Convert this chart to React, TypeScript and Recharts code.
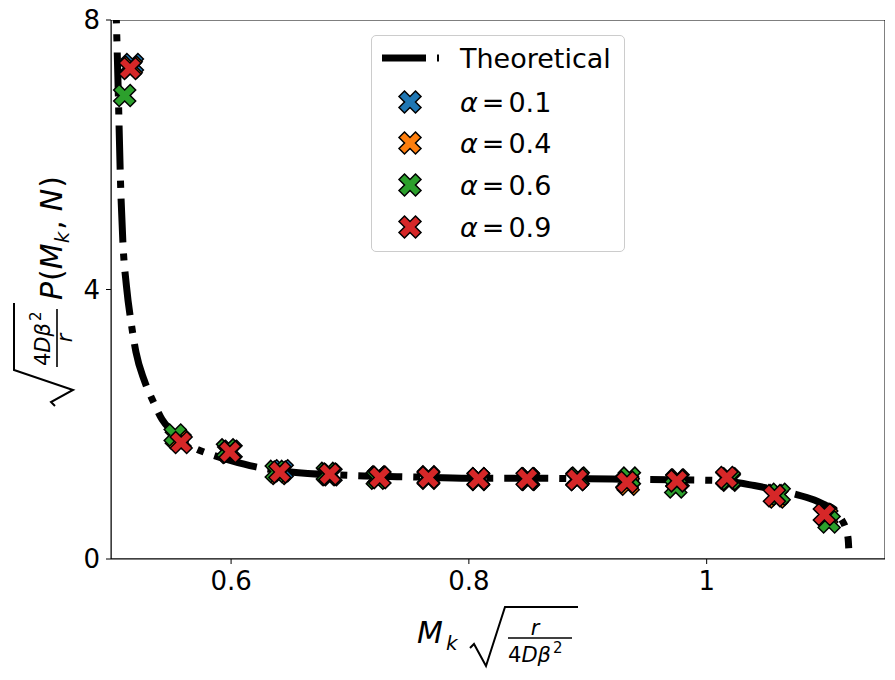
import React from "react";
import {
  ComposedChart,
  Line,
  Scatter,
  XAxis,
  YAxis,
  Legend,
  ReferenceArea,
} from "recharts";

// theoretical curve
const theoryX = [
  0.5025, 0.5035, 0.505, 0.507, 0.509, 0.512, 0.516, 0.52, 0.527, 0.535, 0.542, 0.55,
  0.558, 0.57, 0.585, 0.6, 0.62, 0.65, 0.7, 0.75, 0.8, 0.85, 0.9, 0.95, 1.0, 1.02,
  1.04, 1.06, 1.075, 1.09, 1.1, 1.107, 1.113, 1.117, 1.119, 1.1195,
];
const theoryY = [
  8.6, 8.0, 7.0, 5.6, 4.7, 4.05, 3.5, 3.07, 2.65, 2.32, 2.07, 1.9,
  1.76, 1.64, 1.54, 1.46, 1.37, 1.29, 1.24, 1.22, 1.2, 1.2, 1.19, 1.18, 1.17, 1.15,
  1.09, 1.02, 0.96, 0.88, 0.8, 0.74, 0.6, 0.45, 0.3, 0.16,
];

// simulation points per alpha
const blueX = [0.517, 0.557, 0.6, 0.643, 0.684, 0.725, 0.766, 0.808, 0.85, 0.891, 0.933, 0.975, 1.017, 1.058, 1.1];
const blueY = [7.34, 1.76, 1.6, 1.31, 1.25, 1.21, 1.21, 1.19, 1.19, 1.18, 1.15, 1.17, 1.2, 0.94, 0.65];
const orangeX = [0.516, 0.554, 0.598, 0.64, 0.682, 0.724, 0.766, 0.808, 0.85, 0.891, 0.934, 0.976, 1.019, 1.059, 1.101];
const orangeY = [7.3, 1.8, 1.58, 1.27, 1.25, 1.22, 1.2, 1.18, 1.18, 1.19, 1.11, 1.17, 1.17, 0.92, 0.63];
const greenX = [0.5105, 0.553, 0.597, 0.638, 0.681, 0.723, 0.766, 0.808, 0.85, 0.892, 0.935, 0.974, 1.019, 1.061, 1.103];
const greenY = [6.88, 1.84, 1.62, 1.3, 1.27, 1.2, 1.22, 1.19, 1.19, 1.2, 1.2, 1.07, 1.19, 0.96, 0.55];
const redX = [0.515, 0.558, 0.599, 0.641, 0.683, 0.725, 0.766, 0.808, 0.849, 0.891, 0.933, 0.975, 1.017, 1.057, 1.099];
const redY = [7.28, 1.73, 1.59, 1.29, 1.26, 1.21, 1.21, 1.19, 1.19, 1.18, 1.14, 1.16, 1.21, 0.94, 0.66];

const xTicks = [0.6, 0.8, 1];
const yTicks = [0, 4, 8];

const zip = (xs: number[], ys: number[]) => xs.map((x, i) => ({ x, y: ys[i] }));

const series = [
  { name: "0.1", color: "#1f77b4", data: zip(blueX, blueY) },
  { name: "0.4", color: "#ff7f0e", data: zip(orangeX, orangeY) },
  { name: "0.6", color: "#2ca02c", data: zip(greenX, greenY) },
  { name: "0.9", color: "#d62728", data: zip(redX, redY) },
];
const theory = zip(theoryX, theoryY);

const FONT = "DejaVu Sans, sans-serif";
const DASH = "44 11 7 11";

function xMarkPath(cx: number, cy: number, h: number) {
  const s = h / 0.4714;
  const a = s / 6;
  const l = s / 2;
  const pts = [
    [-a, -l], [a, -l], [a, -a], [l, -a], [l, a], [a, a],
    [a, l], [-a, l], [-a, a], [-l, a], [-l, -a], [-a, -a],
  ];
  const r = Math.SQRT1_2;
  return "M" + pts.map(([x, y]) => `${cx + (x - y) * r},${cy + (x + y) * r}`).join("L") + "Z";
}

const XMark = ({ cx, cy, fill }: any) => {
  if (cx == null || cy == null) return null;
  return <path d={xMarkPath(cx, cy, 11)} fill={fill} stroke="#000" strokeWidth={1.5} strokeLinejoin="miter" />;
};

const renderLegend = () => {
  const rows = [67, 108, 150, 192];
  return (
    <div
      style={{
        width: 254,
        height: 217,
        boxSizing: "border-box",
        border: "1px solid #cccccc",
        borderRadius: 5,
        background: "rgba(255,255,255,0.8)",
      }}
    >
      <svg width={252} height={215} style={{ display: "block" }}>
        <line x1={10} y1={22} x2={67} y2={22} stroke="#000" strokeWidth={7} strokeDasharray={DASH} />
        <text x={88} y={32} fontFamily={FONT} fontSize={27} fill="#000">
          Theoretical
        </text>
        {series.map((s, i) => (
          <g key={s.name}>
            <path d={xMarkPath(38, rows[i] - 1, 11)} fill={s.color} stroke="#000" strokeWidth={1.5} />
            <text x={88} y={rows[i] + 9} fontFamily={FONT} fontSize={27} fill="#000">
              <tspan fontStyle="italic">α</tspan>
              <tspan dx={4}>=</tspan>
              <tspan dx={4}>{s.name}</tspan>
            </text>
          </g>
        ))}
      </svg>
    </div>
  );
};

const AxisLabels = () => (
  <svg width={895} height={680} style={{ position: "absolute", left: 0, top: 0, pointerEvents: "none" }}>
    {/* x label: M_k sqrt(r / 4Dβ²) */}
    <g fontFamily={FONT} fill="#000">
      <text x={417} y={643} fontSize={30} fontStyle="italic">M</text>
      <text x={446} y={650} fontSize={20} fontStyle="italic">k</text>
      <path d="M470,648 L474,644 L486,666 L505,607 L578,607" fill="none" stroke="#000" strokeWidth={2} />
      <text x={535} y={635} fontSize={21} fontStyle="italic" textAnchor="middle">r</text>
      <line x1={508} y1={638} x2={572} y2={638} stroke="#000" strokeWidth={1.6} />
      <text x={508} y={662} fontSize={21}>
        4<tspan fontStyle="italic">Dβ</tspan>
        <tspan fontSize={15} dy={-9} dx={2}>2</tspan>
      </text>
    </g>
    {/* y label: sqrt(4Dβ² / r) P(M_k, N) */}
    <g transform="translate(0,410) rotate(-90)" fontFamily={FONT} fill="#000">
      <path d="M4,55 L8,51 L20,73 L40,14 L107,14" fill="none" stroke="#000" strokeWidth={2} />
      <text x={44} y={50} fontSize={21}>
        4<tspan fontStyle="italic">Dβ</tspan>
        <tspan fontSize={15} dy={-9} dx={2}>2</tspan>
      </text>
      <line x1={43} y1={57} x2={101} y2={57} stroke="#000" strokeWidth={1.6} />
      <text x={72} y={72} fontSize={21} fontStyle="italic" textAnchor="middle">r</text>
      <text x={110} y={62} fontSize={30}>
        <tspan fontStyle="italic">P</tspan>
        <tspan dx={1}>(</tspan>
        <tspan fontStyle="italic">M</tspan>
        <tspan fontSize={20} fontStyle="italic" dy={7}>k</tspan>
        <tspan dy={-7} dx={2}>,</tspan>
        <tspan fontStyle="italic" dx={9}>N</tspan>
        <tspan dx={1}>)</tspan>
      </text>
    </g>
  </svg>
);

export default function App() {
  const tickStyle = { fontFamily: FONT, fontSize: 26, fill: "#000" };
  return (
    <div style={{ position: "absolute", left: 0, top: 0, width: 895, height: 680, background: "#fff" }}>
      <ComposedChart width={895} height={680} margin={{ top: 20, right: 10, bottom: 0, left: 0 }}>
        <XAxis
          type="number"
          dataKey="x"
          domain={[0.499, 1.15]}
          allowDataOverflow
          ticks={xTicks}
          tickFormatter={(v) => String(v)}
          height={121}
          tickSize={5}
          tickMargin={8}
          tick={tickStyle}
          stroke="#000"
          tickLine={{ stroke: "#000" }}
        />
        <YAxis
          type="number"
          dataKey="y"
          domain={[0, 8]}
          allowDataOverflow
          ticks={yTicks}
          width={111}
          tickSize={5}
          tickMargin={6}
          tick={tickStyle}
          stroke="#000"
          tickLine={{ stroke: "#000" }}
        />
        <ReferenceArea x1={0.499} x2={1.15} y1={0} y2={8} fill="none" stroke="#000" strokeWidth={1} ifOverflow="hidden" />
        <Line
          data={theory}
          dataKey="y"
          type="monotone"
          stroke="#000"
          strokeWidth={7}
          strokeDasharray={DASH}
          dot={false}
          activeDot={false}
          isAnimationActive={false}
          name="Theoretical"
        />
        {series.map((s) => (
          <Scatter
            key={s.name}
            data={s.data}
            dataKey="y"
            name={`α = ${s.name}`}
            fill={s.color}
            shape={(p: any) => <XMark cx={p.cx} cy={p.cy} fill={s.color} />}
            isAnimationActive={false}
          />
        ))}
        <Legend
          layout="vertical"
          align="center"
          verticalAlign="middle"
          content={renderLegend}
          wrapperStyle={{ position: "absolute", left: 371, top: 35, width: 254, height: 217 }}
        />
      </ComposedChart>
      <AxisLabels />
    </div>
  );
}
